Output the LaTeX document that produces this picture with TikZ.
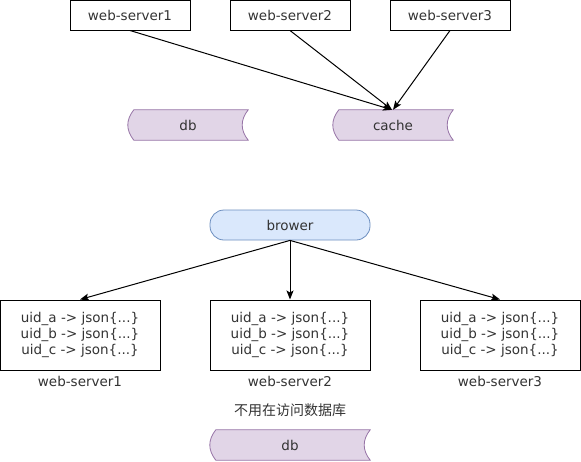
\documentclass[tikz,border=0pt]{standalone}
\usepackage{fontspec}
\setmainfont{DejaVu Sans}
\newfontfamily\cjk{Noto Sans CJK SC}
\usetikzlibrary{arrows.meta,calc}
\definecolor{purplefill}{HTML}{E1D5E7}
\definecolor{purpleline}{HTML}{9673A6}
\definecolor{bluefill}{HTML}{DAE8FC}
\definecolor{blueline}{HTML}{6C8EBF}
\definecolor{textgrey}{HTML}{333333}
\tikzset{
  txt/.style={font=\fontsize{13.5}{16}\selectfont, text=textgrey, inner sep=0pt},
  srvbox/.style={txt, draw=black, line width=1pt, minimum width=120pt, minimum height=30pt},
  mapbox/.style={txt, draw=black, line width=1pt, minimum width=160pt, minimum height=70pt, align=center},
  storenode/.style={txt, minimum height=30pt},
  pill/.style={txt, draw=blueline, fill=bluefill, line width=0.8pt, rounded corners=14pt, minimum width=160pt, minimum height=30pt},
  conn/.style={line width=1pt, -{Stealth[length=9pt,width=7pt,inset=2pt]}},
  storeline/.style={draw=purpleline, fill=purplefill, line width=0.8pt},
}
% storage outline: left side bulges out, right side curves in (quadratic-like curves)
\newcommand{\storepath}[1]{%
  \path[storeline] ($(#1.north west)+(6,0)$) -- (#1.north east)
    .. controls ($(#1.north east)+(-8,10)$) and ($(#1.south east)+(-8,-10)$) .. (#1.south east)
    -- ($(#1.south west)+(6,0)$)
    .. controls ($(#1.south west)+(-2,-10)$) and ($(#1.north west)+(-2,10)$) .. ($(#1.north west)+(6,0)$)
    -- cycle;
}
\begin{document}
\begin{tikzpicture}[x=1pt,y=-1pt]
\useasboundingbox (0,0) rectangle (581,461);
% top servers
\node[srvbox] (ws1) at (130,15) {web-server1};
\node[srvbox] (ws2) at (290,15) {web-server2};
\node[srvbox] (ws3) at (450,15) {web-server3};
% storage shapes (top)
\node[storenode, minimum width=120pt] (dbtop) at (188,125) {};
\storepath{dbtop}
\node[txt] (dbtoplabel) at (dbtop.center) {db};
\node[storenode, minimum width=120pt] (cache) at (393,125) {};
\storepath{cache}
\node[txt] (cachelabel) at (cache.center) {cache};
\draw[conn] (ws1.south) -- ($(cache.north)+(-1,0)$);
\draw[conn] (ws2.south) -- ($(cache.north)+(-1,0)$);
\draw[conn] (ws3.south) -- (cache.north);
% bottom part
\node[pill] (brower) at (290,225) {brower};
\node[mapbox] (b1) at (80,335) {uid\_a -> json\{...\}\\uid\_b -> json\{...\}\\uid\_c -> json\{...\}};
\node[mapbox] (b2) at (290,335) {uid\_a -> json\{...\}\\uid\_b -> json\{...\}\\uid\_c -> json\{...\}};
\node[mapbox] (b3) at (500,335) {uid\_a -> json\{...\}\\uid\_b -> json\{...\}\\uid\_c -> json\{...\}};
\node[txt] (l1) at (80,381) {web-server1};
\node[txt] (l2) at (290,381) {web-server2};
\node[txt] (l3) at (500,381) {web-server3};
\draw[conn] (brower.south) -- (b1.north);
\draw[conn] (brower.south) -- (b2.north);
\draw[conn] (brower.south) -- (b3.north);
\node[txt, font=\cjk\fontsize{14}{16}\selectfont] (note) at (290,410) {不用在访问数据库};
\node[storenode, minimum width=160pt] (dbbot) at (290,445) {};
\storepath{dbbot}
\node[txt] (dbbotlabel) at (dbbot.center) {db};
\end{tikzpicture}
\end{document}
